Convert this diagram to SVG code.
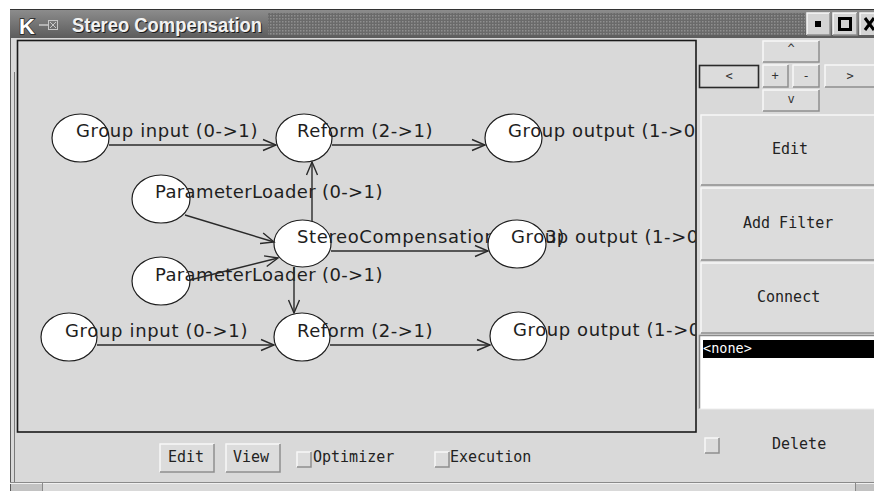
<svg xmlns="http://www.w3.org/2000/svg" width="874" height="491" viewBox="0 0 874 491">
<defs>
<style>
.node ellipse{fill:#fff;stroke:#1e1e1e;stroke-width:1.2}
.node text{font-family:"DejaVu Sans",sans-serif;font-size:18px;letter-spacing:0.6px;fill:#1e1e1e}
.edge{stroke:#2a2a2a;stroke-width:1.4;fill:none;marker-end:url(#arr)}
.btn{fill:#dcdcdc}
.hi{stroke:#f7f7f7;stroke-width:1.5;fill:none}
.sh{stroke:#8e8e8e;stroke-width:1.5;fill:none}
.mono{font-family:"DejaVu Sans Mono",monospace;font-size:15px;fill:#222}
.small{font-family:"DejaVu Sans Mono",monospace;font-size:12px;fill:#333;text-anchor:middle}
.ttl{font-family:"Liberation Sans",sans-serif;font-weight:bold;font-size:20px}
</style>
<marker id="arr" markerUnits="userSpaceOnUse" markerWidth="16" markerHeight="14" refX="13" refY="7" orient="auto" overflow="visible">
<path d="M0,1.5 L13,7 L0,12.5" fill="none" stroke="#2a2a2a" stroke-width="1.4"/>
</marker>
<pattern id="dots" width="3" height="3" patternUnits="userSpaceOnUse">
<rect width="3" height="3" fill="#6a6a6a"/>
<rect width="1.5" height="1.5" fill="#8f8f8f"/>
</pattern>
<linearGradient id="tb" x1="0" y1="0" x2="0" y2="1">
<stop offset="0" stop-color="#8c8c8c"/><stop offset="1" stop-color="#5c5c5c"/>
</linearGradient>
<clipPath id="cv"><rect x="18" y="41" width="677.5" height="390.5"/></clipPath>
</defs>

<rect width="874" height="491" fill="#fff"/>
<!-- window body -->
<rect x="10" y="10" width="864" height="481" fill="#d9d9d9"/>
<line x1="10.5" y1="10" x2="10.5" y2="491" stroke="#5a5a5a"/>
<line x1="14.5" y1="72" x2="14.5" y2="483" stroke="#7a7a7a"/>
<!-- title bar -->
<g id="titlebar">
<rect x="10" y="10" width="864" height="28" fill="url(#tb)"/>
<line x1="10" y1="9.5" x2="874" y2="9.5" stroke="#333"/>
<rect x="268" y="13" width="537" height="22" fill="url(#dots)"/>
<text x="19" y="34" font-family="Liberation Sans, sans-serif" font-weight="bold" font-size="22" fill="#fff" stroke="#222" stroke-width="1.4" paint-order="stroke">K</text>
<line x1="39" y1="25" x2="48" y2="25" stroke="#c8c8c8" stroke-width="1.5"/>
<rect x="48.5" y="20.5" width="9" height="9" fill="none" stroke="#c8c8c8"/>
<line x1="50" y1="22" x2="56" y2="28" stroke="#c8c8c8"/>
<line x1="56" y1="22" x2="50" y2="28" stroke="#c8c8c8"/>
<text x="73" y="33" class="ttl" fill="#1c1c1c" textLength="190" lengthAdjust="spacingAndGlyphs">Stereo Compensation</text>
<text x="72" y="32" class="ttl" fill="#f2f2f2" textLength="190" lengthAdjust="spacingAndGlyphs">Stereo Compensation</text>
<rect x="807" y="13" width="23" height="22" fill="#d4d4d4"/>
<polyline points="807,35 807,13 830,13" class="hi"/>
<polyline points="830,13 830,35 807,35" class="sh"/>
<rect x="815" y="21" width="6" height="6" fill="#000"/>
<rect x="833" y="13" width="24" height="22" fill="#d4d4d4"/>
<polyline points="833,35 833,13 857,13" class="hi"/>
<polyline points="857,13 857,35 833,35" class="sh"/>
<rect x="839.5" y="18.5" width="11" height="11" fill="none" stroke="#000" stroke-width="3"/>
<rect x="860" y="13" width="14" height="22" fill="#d4d4d4"/>
<polyline points="860,35 860,13 874,13" class="hi"/>
<path d="M865,18 L874,30 M874,18 L865,30" stroke="#000" stroke-width="3"/>
</g>

<!-- canvas -->
<rect x="17.5" y="40.5" width="678.5" height="391.5" fill="#d9d9d9" stroke="#1a1a1a" stroke-width="1.6"/>

<g clip-path="url(#cv)">
<g id="node-groupinput-top" class="node">
<ellipse cx="80.5" cy="138" rx="28.5" ry="24"/>
<text x="76" y="137" textLength="182" lengthAdjust="spacing">Group input (0-&gt;1)</text>
</g>
<g id="node-reform-top" class="node">
<ellipse cx="304" cy="138" rx="28" ry="24"/>
<text x="297" y="137" textLength="136" lengthAdjust="spacing">Reform (2-&gt;1)</text>
</g>
<g id="node-groupoutput-top" class="node">
<ellipse cx="513.5" cy="138" rx="28.5" ry="24"/>
<text x="508" y="137">Group output (1-&gt;0)</text>
</g>
<g id="node-paramloader-top" class="node">
<ellipse cx="161" cy="199" rx="29" ry="24"/>
<text x="155" y="198" textLength="228" lengthAdjust="spacing">ParameterLoader (0-&gt;1)</text>
</g>
<g id="node-stereocomp" class="node">
<ellipse cx="302.5" cy="243.5" rx="28.5" ry="23.5"/>
<text x="297" y="243" textLength="268" lengthAdjust="spacing">StereoCompensation (2-&gt;3)</text>
</g>
<g id="node-paramloader-bottom" class="node">
<ellipse cx="161" cy="281" rx="29" ry="24"/>
<text x="155" y="281" textLength="228" lengthAdjust="spacing">ParameterLoader (0-&gt;1)</text>
</g>
<g id="node-groupoutput-mid" class="node">
<ellipse cx="517" cy="244" rx="29" ry="24"/>
<text x="511" y="243">Group output (1-&gt;0)</text>
</g>
<g id="node-groupinput-bottom" class="node">
<ellipse cx="69" cy="337" rx="28" ry="24"/>
<text x="65" y="337" textLength="183" lengthAdjust="spacing">Group input (0-&gt;1)</text>
</g>
<g id="node-reform-bottom" class="node">
<ellipse cx="302" cy="337" rx="28" ry="24"/>
<text x="297" y="337" textLength="136" lengthAdjust="spacing">Reform (2-&gt;1)</text>
</g>
<g id="node-groupoutput-bottom" class="node">
<ellipse cx="518.5" cy="336" rx="28.5" ry="24"/>
<text x="513" y="336">Group output (1-&gt;0)</text>
</g>

<g id="connectors">
<line class="edge" x1="109" y1="145" x2="276" y2="145"/>
<line class="edge" x1="332" y1="145" x2="485" y2="145"/>
<line class="edge" x1="185" y1="215" x2="274" y2="242"/>
<line class="edge" x1="190" y1="280" x2="278" y2="258"/>
<line class="edge" x1="312" y1="221" x2="312" y2="162"/>
<line class="edge" x1="294" y1="267" x2="294" y2="313"/>
<line class="edge" x1="331" y1="251" x2="488" y2="251"/>
<line class="edge" x1="97" y1="345" x2="274" y2="345"/>
<line class="edge" x1="330" y1="345" x2="490" y2="345"/>
</g>
</g>

<!-- right panel -->
<g id="panel">
<rect x="763" y="41" width="56" height="21" class="btn"/>
<polyline points="763,62 763,41 819,41" class="hi"/><polyline points="819,41 819,62 763,62" class="sh"/>
<text x="791" y="53" class="small">^</text>

<rect x="699.5" y="65.5" width="59" height="22" class="btn" stroke="#2a2a2a" stroke-width="1.6"/>
<text x="729" y="80" class="small">&lt;</text>

<rect x="763" y="65" width="25" height="22" class="btn"/>
<polyline points="763,87 763,65 788,65" class="hi"/><polyline points="788,65 788,87 763,87" class="sh"/>
<text x="775" y="80" class="small">+</text>

<rect x="793" y="65" width="26" height="22" class="btn"/>
<polyline points="793,87 793,65 819,65" class="hi"/><polyline points="819,65 819,87 793,87" class="sh"/>
<text x="806" y="80" class="small">-</text>

<rect x="825" y="65" width="49" height="22" class="btn"/>
<polyline points="825,87 825,65 874,65" class="hi"/><polyline points="825,87 874,87" class="sh"/>
<text x="850" y="80" class="small">&gt;</text>

<rect x="763" y="90" width="56" height="21" class="btn"/>
<polyline points="763,111 763,90 819,90" class="hi"/><polyline points="819,90 819,111 763,111" class="sh"/>
<text x="791" y="103" class="small">v</text>

<rect x="701" y="115" width="173" height="70" class="btn"/>
<polyline points="701,185 701,115 874,115" class="hi"/><polyline points="701,185 874,185" class="sh"/>
<text x="772" y="154" class="mono">Edit</text>

<rect x="701" y="188" width="173" height="72" class="btn"/>
<polyline points="701,260 701,188 874,188" class="hi"/><polyline points="701,260 874,260" class="sh"/>
<text x="743" y="228" class="mono">Add Filter</text>

<rect x="701" y="263" width="173" height="70" class="btn"/>
<polyline points="701,333 701,263 874,263" class="hi"/><polyline points="701,333 874,333" class="sh"/>
<text x="757" y="302" class="mono">Connect</text>

<rect x="699" y="335" width="175" height="74" fill="#fff"/>
<polyline points="699.5,409 699.5,335.5 874,335.5" stroke="#8a8a8a" stroke-width="1.5" fill="none"/>
<line x1="699" y1="409" x2="874" y2="409" stroke="#ececec"/>
<rect x="703" y="340" width="171" height="18" fill="#000"/>
<text x="703" y="353" font-family="DejaVu Sans Mono, monospace" font-size="13.5" fill="#fff">&lt;none&gt;</text>

<rect x="705" y="438" width="14" height="15" fill="#dcdcdc"/>
<polyline points="705,453 705,438 719,438" class="hi"/><polyline points="719,438 719,453 705,453" class="sh"/>
<text x="772" y="449" class="mono">Delete</text>
</g>

<!-- bottom controls -->
<g id="bottombar">
<rect x="160" y="444" width="54" height="28" class="btn"/>
<polyline points="160,472 160,444 214,444" class="hi"/><polyline points="214,444 214,472 160,472" class="sh"/>
<text x="168" y="462" class="mono">Edit</text>
<rect x="226" y="444" width="54" height="28" class="btn"/>
<polyline points="226,472 226,444 280,444" class="hi"/><polyline points="280,444 280,472 226,472" class="sh"/>
<text x="233" y="462" class="mono">View</text>
<rect x="297" y="452" width="14" height="15" fill="#dcdcdc"/>
<polyline points="297,467 297,452 311,452" class="hi"/><polyline points="311,452 311,467 297,467" class="sh"/>
<text x="313" y="462" class="mono">Optimizer</text>
<rect x="435" y="452" width="14" height="15" fill="#dcdcdc"/>
<polyline points="435,467 435,452 449,452" class="hi"/><polyline points="449,452 449,467 435,467" class="sh"/>
<text x="450" y="462" class="mono">Execution</text>
</g>

<!-- status bar -->
<line x1="10" y1="482.5" x2="874" y2="482.5" stroke="#8a8a8a"/>
<line x1="10" y1="483.5" x2="874" y2="483.5" stroke="#f0f0f0"/>
<rect x="11" y="484" width="31" height="7" fill="#c2c2c2"/>
<line x1="42.5" y1="483" x2="42.5" y2="491" stroke="#8a8a8a"/>
<line x1="855.5" y1="483" x2="855.5" y2="491" stroke="#8a8a8a"/>
<rect x="856" y="484" width="18" height="7" fill="#c2c2c2"/>
</svg>
